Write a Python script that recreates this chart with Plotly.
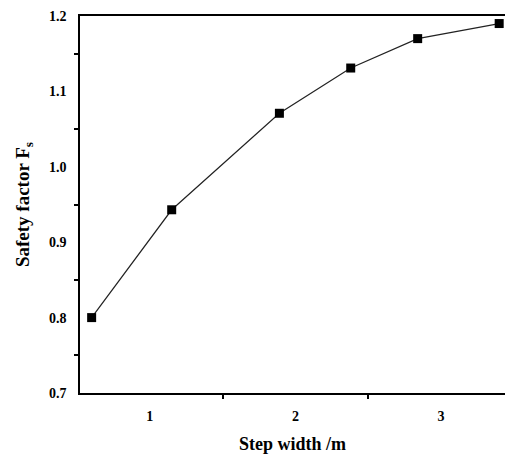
import plotly.graph_objects as go

step_width = [0.60, 1.15, 1.89, 2.38, 2.84, 3.40]
safety_factor = [0.800, 0.943, 1.071, 1.131, 1.170, 1.190]
x_tick_vals = [1, 2, 3]
x_tick_text = ["1", "2", "3"]
y_tick_vals = [0.7, 0.8, 0.9, 1.0, 1.1, 1.2]
y_tick_text = ["0.7", "0.8", "0.9", "1.0", "1.1", "1.2"]

font_family = "Liberation Serif"

fig = go.Figure()
fig.add_trace(go.Scatter(
    x=step_width, y=safety_factor,
    mode="lines+markers",
    line=dict(color="#222222", width=1.2),
    marker=dict(symbol="square", size=9, color="black"),
    showlegend=False,
    cliponaxis=False,
))

fig.update_layout(
    width=505, height=456,
    margin=dict(l=80, r=0, t=16, b=63),
    paper_bgcolor="white", plot_bgcolor="white",
    font=dict(family=font_family, color="black", size=14),
)

fig.update_xaxes(
    range=[0.52, 3.44],
    tickvals=x_tick_vals, ticktext=x_tick_text,
    ticks="", showgrid=False, zeroline=False,
    showline=True, linecolor="black", linewidth=1.5, mirror=True,
    tickfont=dict(family=font_family, size=14, weight="bold"),
    ticklabelstandoff=9,
    minor=dict(ticks="outside", tick0=0.5, dtick=1, ticklen=4, tickcolor="black", tickwidth=1.5, showgrid=False),
    title=dict(text="<b>Step width /m</b>", font=dict(family=font_family, size=18), standoff=15),
    automargin=False,
)
fig.update_yaxes(
    range=[0.7, 1.2],
    tickvals=y_tick_vals, ticktext=y_tick_text,
    ticks="", showgrid=False, zeroline=False,
    showline=True, linecolor="black", linewidth=1.5,
    tickfont=dict(family=font_family, size=14, weight="bold"),
    ticklabelstandoff=9,
    minor=dict(ticks="outside", tick0=0.75, dtick=0.1, ticklen=4, tickcolor="black", tickwidth=1.5, showgrid=False),
    title=dict(text="<b>Safety factor F<sub>s</sub></b>", font=dict(family=font_family, size=19), standoff=14),
    automargin=False,
)

fig.write_html(
    "out.html",
    config={"displayModeBar": False},
    post_script="document.body.style.margin='0';document.body.style.overflow='hidden';",
)
